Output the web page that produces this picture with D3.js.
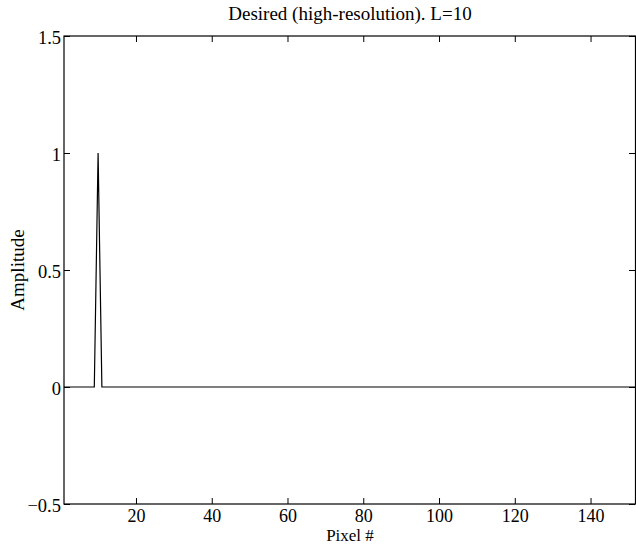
<!DOCTYPE html>
<html><head><meta charset="utf-8">
<script src="https://cdn.jsdelivr.net/npm/d3@7"></script>
<style>body{margin:0;background:#fff}svg{display:block}text{font-family:"Liberation Serif","Times New Roman",serif;fill:#000}</style>
</head><body>
<script>
const titleText = "Desired (high-resolution). L=10";
const xLabel = "Pixel #";
const yLabel = "Amplitude";
const xTicks = [20,40,60,80,100,120,140];
const yTicks = [-0.5,0,0.5,1,1.5];
const pixels = d3.range(1,153);
const impulsePixel = 10;
const amplitudes = pixels.map(p => p === impulsePixel ? 1 : 0);

const W=636,H=544;
const m={l:64,r:0,t:36,b:40};
const svg=d3.select("body").append("svg").attr("width",W).attr("height",H);
const x=d3.scaleLinear().domain([1,152]).range([m.l,W-m.r]);
const y=d3.scaleLinear().domain([-0.5,1.5]).range([H-m.b,m.t]);
const tk=6;
const fs=18.5;
// box
svg.append("rect").attr("x",x.range()[0]).attr("y",m.t).attr("width",x.range()[1]-x.range()[0]-0.5).attr("height",y.range()[0]-m.t)
  .attr("fill","none").attr("stroke","#000").attr("stroke-width",1.2);
// bottom axis
const bx=svg.append("g").attr("transform",`translate(0,${y(-0.5)})`).call(d3.axisBottom(x).tickValues(xTicks).tickSize(-tk).tickPadding(5).tickFormat(d3.format("d")));
bx.select(".domain").remove();
bx.selectAll("text").attr("font-size",18).attr("font-family","Liberation Serif");
bx.selectAll("line").attr("stroke","#000");
const tx=svg.append("g").attr("transform",`translate(0,${y(1.5)})`).call(d3.axisTop(x).tickValues(xTicks).tickSize(-tk).tickFormat(""));
tx.select(".domain").remove();
const ly=svg.append("g").attr("transform",`translate(${m.l},0)`).call(d3.axisLeft(y).tickValues(yTicks).tickSize(-tk).tickPadding(3).tickFormat(d=>d<0?"\u22120.5":d3.format("")(d)));
ly.select(".domain").remove();
ly.selectAll("text").attr("font-size",fs).attr("font-family","Liberation Serif").attr("dy","0.42em");
const ry=svg.append("g").attr("transform",`translate(${W-m.r-1},0)`).call(d3.axisRight(y).tickValues(yTicks).tickSize(-tk).tickFormat(""));
ry.select(".domain").remove();
// line
svg.append("path").datum(pixels.map((p,i)=>[p,amplitudes[i]]))
  .attr("fill","none").attr("stroke","#000").attr("stroke-width",1.2)
  .attr("d",d3.line().x(d=>x(d[0])).y(d=>y(d[1])));
// labels
svg.append("text").attr("x",(m.l+W)/2).attr("y",20).attr("text-anchor","middle").attr("font-size",19).text(titleText);
svg.append("text").attr("x",(m.l+W)/2).attr("y",541).attr("text-anchor","middle").attr("font-size",17).text(xLabel);
svg.append("text").attr("transform",`translate(24,${y(0.5)}) rotate(-90)`).attr("text-anchor","middle").attr("font-size",19).text(yLabel);
</script>
</body></html>
